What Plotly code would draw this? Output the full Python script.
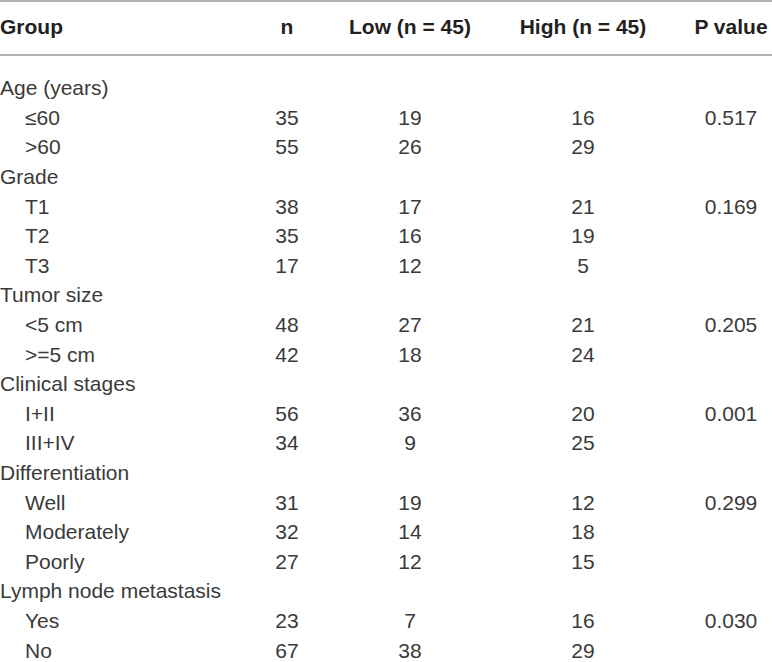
import plotly.graph_objects as go

# ------------------------------------------------------------------  #
# Table data
headers = ["Group", "n", "Low (n = 45)", "High (n = 45)", "P value"]
groups = ["Age (years)", "Grade", "Tumor size", "Clinical stages",
          "Differentiation", "Lymph node metastasis"]
levels = [["≤60", ">60"],
          ["T1", "T2", "T3"],
          ["<5 cm", ">=5 cm"],
          ["I+II", "III+IV"],
          ["Well", "Moderately", "Poorly"],
          ["Yes", "No"]]
n_counts = [[35, 55], [38, 35, 17], [48, 42], [56, 34], [31, 32, 27], [23, 67]]
low_counts = [[19, 26], [17, 16, 12], [27, 18], [36, 9], [19, 14, 12], [7, 38]]
high_counts = [[16, 29], [21, 19, 5], [21, 24], [20, 25], [12, 18, 15], [16, 29]]
p_values = ["0.517", "0.169", "0.205", "0.001", "0.299", "0.030"]

# ------------------------------------------------------------------  #
# Layout geometry (pixels)
W, H = 772, 662
header_y = 29
first_row_y = 90
row_step = 29.6
col_x = [0, 287, 410, 583, 731]   # left edge for labels, centres for numbers
indent_x = 25

body_font = dict(family="Liberation Sans, Arial, sans-serif", size=21, color="#3a3a3a")
head_font = dict(family="Liberation Sans, Arial, sans-serif", size=21, color="#231f20")

# ------------------------------------------------------------------  #
# Flatten the rows
cat_y, cat_text = [], []
lvl_y, lvl_text = [], []
n_text, low_text, high_text, val_y = [], [], [], []
p_y, p_text = [], []
row = 0
for g, lv, nn, lo, hi, p in zip(groups, levels, n_counts, low_counts,
                                high_counts, p_values):
    cat_y.append(first_row_y + row * row_step)
    cat_text.append(g)
    row += 1
    for j, name in enumerate(lv):
        y = first_row_y + row * row_step
        lvl_y.append(y)
        lvl_text.append(name)
        val_y.append(y)
        n_text.append(str(nn[j]))
        low_text.append(str(lo[j]))
        high_text.append(str(hi[j]))
        if j == 0:
            p_y.append(y)
            p_text.append(p)
        row += 1

fig = go.Figure()

# Header
fig.add_trace(go.Scatter(x=[col_x[0]], y=[header_y], text=["<b>%s</b>" % headers[0]],
                         mode="text", textposition="middle right",
                         textfont=head_font, hoverinfo="skip"))
fig.add_trace(go.Scatter(x=col_x[1:], y=[header_y] * 4,
                         text=["<b>%s</b>" % h for h in headers[1:]],
                         mode="text", textposition="middle center",
                         textfont=head_font, hoverinfo="skip"))

# Group and level labels
fig.add_trace(go.Scatter(x=[col_x[0]] * len(cat_y), y=cat_y, text=cat_text,
                         mode="text", textposition="middle right",
                         textfont=body_font, hoverinfo="skip"))
fig.add_trace(go.Scatter(x=[indent_x] * len(lvl_y), y=lvl_y, text=lvl_text,
                         mode="text", textposition="middle right",
                         textfont=body_font, hoverinfo="skip"))

# Counts
for cx, vals in zip(col_x[1:4], [n_text, low_text, high_text]):
    fig.add_trace(go.Scatter(x=[cx] * len(val_y), y=val_y, text=vals,
                             mode="text", textposition="middle center",
                             textfont=body_font, hoverinfo="skip"))

# P values
fig.add_trace(go.Scatter(x=[col_x[4]] * len(p_y), y=p_y, text=p_text,
                         mode="text", textposition="middle center",
                         textfont=body_font, hoverinfo="skip"))

# Rules
for ly in [1, 55]:
    fig.add_shape(type="line", xref="x", yref="y", x0=0, x1=W, y0=ly, y1=ly,
                  line=dict(color="#9a9a9a", width=1.5))

fig.update_xaxes(range=[0, W], visible=False, fixedrange=True)
fig.update_yaxes(range=[H, 0], visible=False, fixedrange=True)
fig.update_layout(
    width=W, height=H,
    margin=dict(l=0, r=0, t=0, b=0),
    showlegend=False,
    plot_bgcolor="white", paper_bgcolor="white")

# drop the default page margin so the table sits at the window corner
fig.write_html("out.html", config={"displayModeBar": False},
               post_script="document.body.style.margin='0px';")
